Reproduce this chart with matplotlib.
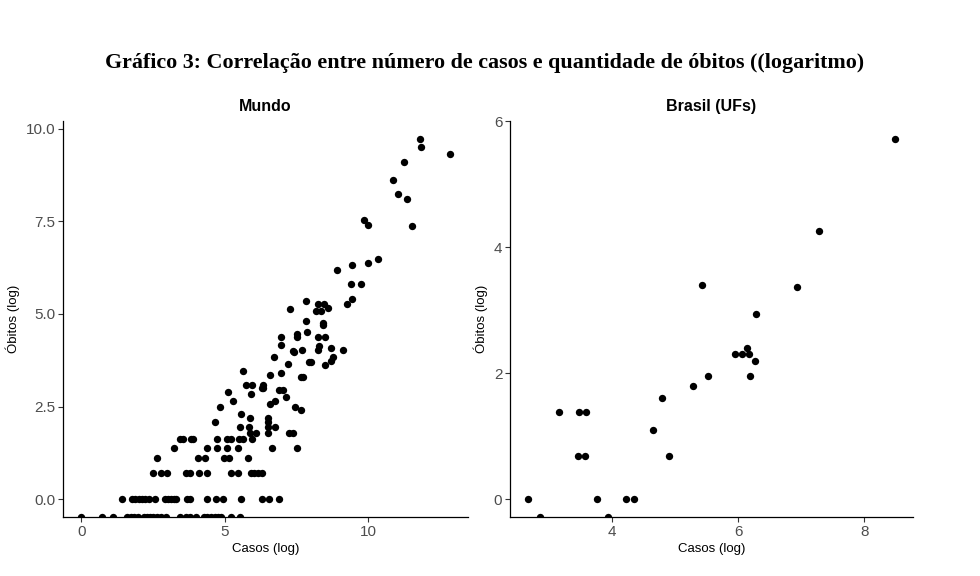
import numpy as np
import matplotlib
matplotlib.use("Agg")
import matplotlib.pyplot as plt

plt.rcParams['font.family'] = ['Liberation Sans', 'DejaVu Sans']

NEG = -np.inf  # log(0): ggplot puts these on the panel edge

# Mundo (países): log casos x log óbitos
mundo_casos = [
    0.0, 0.71, 1.10, 1.59, 1.71, 1.83, 1.97, 2.17, 2.27, 2.38, 2.50, 2.64, 2.76,
    2.93, 3.45, 3.66, 3.80, 3.98, 4.27, 4.38, 4.52, 4.64, 4.76, 4.87, 5.20, 5.51,
    1.40, 1.77, 1.88, 2.00, 2.12, 2.23, 2.35, 2.58, 2.90, 3.01, 3.13, 3.22, 3.31,
    3.69, 3.77, 4.36, 4.69, 4.95, 5.55, 6.29, 6.52, 6.87,
    2.50, 2.78, 2.97, 3.65, 3.80, 4.09, 4.36, 5.22, 5.45, 5.90, 6.01, 6.15, 6.29,
    2.65, 4.07, 4.30, 4.97, 5.14, 5.80,
    3.24, 4.36, 4.73, 5.08, 5.45, 6.64, 7.52,
    3.43, 3.55, 3.83, 3.90, 4.73, 5.08, 5.20, 5.50, 5.64, 5.93,
    5.87, 6.07, 6.51, 7.22, 7.37,
    5.51, 5.84, 6.50, 6.74,
    4.67, 6.50, 5.87, 6.50, 5.55, 7.64, 4.84, 7.44, 6.57, 6.74, 5.28, 7.13,
    5.91, 5.10, 6.88, 7.03, 6.30, 6.34, 5.73, 5.95, 6.34,
    7.65, 7.72, 6.57, 6.94, 5.64, 8.49, 7.20, 7.93, 7.99, 8.78, 8.69, 6.72,
    7.41, 7.37, 9.10, 7.70, 8.26, 8.69, 8.27, 6.94,
    6.94, 7.50, 8.26, 8.50, 7.52, 7.87, 8.42, 8.42, 7.81,
    8.17, 8.34, 7.26, 8.60, 8.23, 8.45, 7.84, 9.26, 9.43, 9.38, 9.73,
    8.90, 9.42, 9.99, 10.34, 9.97, 9.85, 11.51, 11.34, 11.02, 10.86, 11.23,
    12.83, 11.83, 11.81,
]
mundo_obitos = (
    [NEG] * 26
    + [0.0] * 22
    + [0.69] * 13
    + [1.10] * 6
    + [1.39] * 7
    + [1.61] * 10
    + [1.79] * 5
    + [1.95] * 4
    + [2.08, 2.08, 2.20, 2.20, 2.30, 2.40, 2.48, 2.48, 2.56, 2.64, 2.64, 2.77,
       2.83, 2.89, 2.94, 2.94, 3.00, 3.00, 3.09, 3.09, 3.09,
       3.30, 3.30, 3.34, 3.40, 3.47, 3.61, 3.66, 3.71, 3.71, 3.85, 3.73, 3.85,
       3.96, 3.99, 4.03, 4.03, 4.03, 4.08, 4.14, 4.16,
       4.38, 4.38, 4.38, 4.38, 4.45, 4.51, 4.70, 4.77, 4.82,
       5.08, 5.08, 5.13, 5.15, 5.28, 5.28, 5.35, 5.28, 5.40, 5.80, 5.80,
       6.18, 6.32, 6.37, 6.49, 7.40, 7.54, 7.39, 8.12, 8.24, 8.61, 9.11,
       9.32, 9.50, 9.73]
)

# Brasil (UFs)
uf_casos = [2.68, 2.87, 3.17, 3.49, 3.59, 3.47, 3.57, 3.77, 3.94, 4.22, 4.36,
            4.65, 4.80, 4.91, 5.29, 5.43, 5.53, 5.95, 6.07, 6.14, 6.17, 6.19,
            6.27, 6.28, 6.93, 7.28, 8.48]
uf_obitos = [0.0, NEG, 1.39, 1.39, 1.39, 0.69, 0.69, 0.0, NEG, 0.0, 0.0,
             1.10, 1.61, 0.69, 1.79, 3.40, 1.95, 2.30, 2.30, 2.40, 2.30, 1.95,
             2.20, 2.94, 3.37, 4.26, 5.72]

titulo = "Gráfico 3: Correlação entre número de casos e quantidade de óbitos ((logaritmo)"


def expand(v):
    v = np.asarray(v, dtype=float)
    v = v[np.isfinite(v)]
    lo, hi = v.min(), v.max()
    pad = 0.05 * (hi - lo)
    return lo - pad, hi + pad


def painel(ax, x, y, nome, xticks, yticks, yfmt):
    xlim = expand(x)
    ylim = expand(y)
    y = np.asarray(y, dtype=float)
    y = np.where(np.isneginf(y), ylim[0], y)
    ax.scatter(x, y, s=28, color='black', linewidths=0, clip_on=True, zorder=3)
    ax.set_xlim(xlim)
    ax.set_ylim(ylim)
    ax.set_xticks(xticks)
    ax.set_yticks(yticks)
    ax.set_yticklabels([yfmt.format(t) for t in yticks])
    for s in ['top', 'right']:
        ax.spines[s].set_visible(False)
    for s in ['left', 'bottom']:
        ax.spines[s].set_linewidth(0.9)
        ax.spines[s].set_color('black')
    ax.tick_params(length=3.5, width=0.8, color='#333333', labelcolor='#4D4D4D',
                   labelsize=11, pad=2)
    ax.set_title(nome, fontsize=11.5, fontweight='bold', pad=7)
    ax.set_xlabel('Casos (log)', fontsize=9.5, labelpad=3)
    ax.set_ylabel('Óbitos (log)', fontsize=9.5, labelpad=4)


fig = plt.figure(figsize=(9.8, 5.76), dpi=100)
ax1 = fig.add_axes([0.0643, 0.1024, 0.4133, 0.6876])
ax2 = fig.add_axes([0.5204, 0.1024, 0.4112, 0.6876])

painel(ax1, mundo_casos, mundo_obitos, 'Mundo', [0, 5, 10],
       [0, 2.5, 5, 7.5, 10], '{:.1f}')
painel(ax2, uf_casos, uf_obitos, 'Brasil (UFs)', [4, 6, 8], [0, 2, 4, 6], '{:.0f}')

fig.text(0.494, 0.890, titulo, ha='center', va='center', fontsize=15.8,
         fontweight='bold', family=['Liberation Serif', 'DejaVu Serif'])

fig.savefig('out.png', dpi=100)
